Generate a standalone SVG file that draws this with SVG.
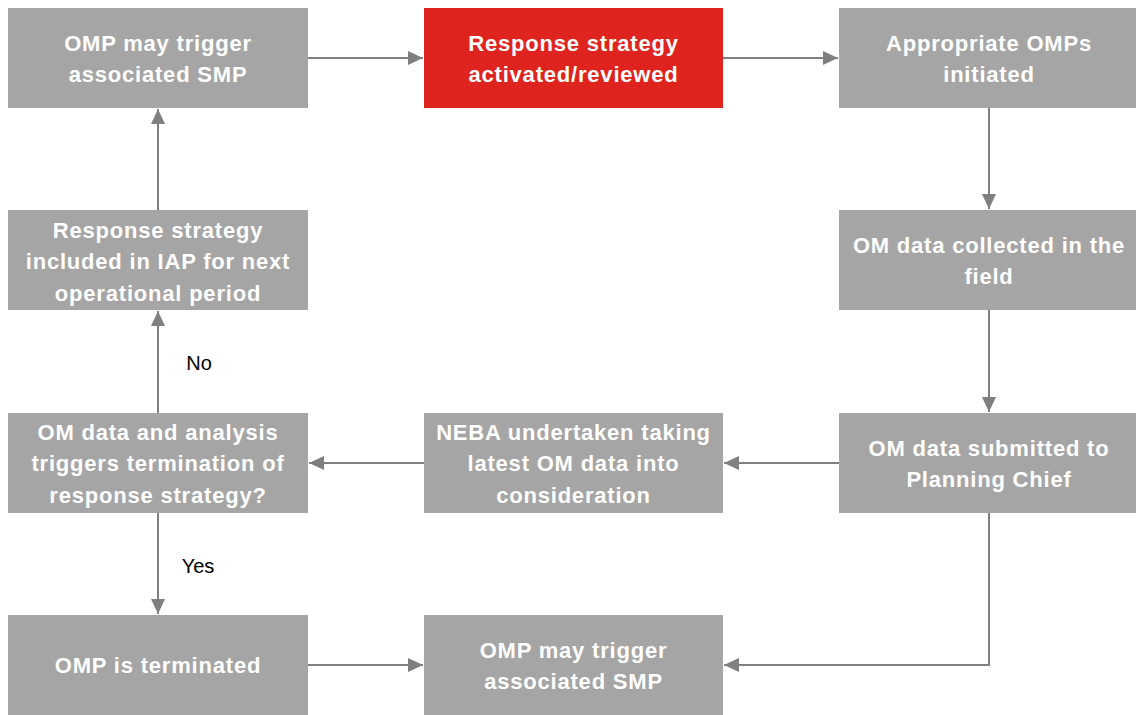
<svg xmlns="http://www.w3.org/2000/svg" width="1136" height="715" viewBox="0 0 1136 715">
<style>
.box{fill:#a5a5a5}
.red{fill:#df231e}
.t{font-family:"Liberation Sans",Arial,sans-serif;font-weight:bold;font-size:22px;letter-spacing:0.8px;fill:#ffffff;text-anchor:middle}
.lbl{font-family:"Liberation Sans",Arial,sans-serif;font-size:20px;fill:#000000;text-anchor:middle}
.c{stroke:#7f7f7f;stroke-width:2;fill:none;marker-end:url(#ah)}
</style>
<defs>
<marker id="ah" markerWidth="16" markerHeight="16" viewBox="0 0 16 16" refX="15" refY="8" orient="auto" markerUnits="userSpaceOnUse">
<path d="M0,1 L15,8 L0,15 z" fill="#7f7f7f"/>
</marker>
</defs>
<rect width="1136" height="715" fill="#ffffff"/>
<g id="connectors">
<path class="c" d="M308,58 H423"/>
<path class="c" d="M723,58 H838"/>
<path class="c" d="M989,108 V209"/>
<path class="c" d="M989,310 V412"/>
<path class="c" d="M839,463 H724"/>
<path class="c" d="M424,463 H309"/>
<path class="c" d="M158,413 V311"/>
<path class="c" d="M158,210 V109"/>
<path class="c" d="M158,513 V614"/>
<path class="c" d="M308,665 H423"/>
<path class="c" d="M989,513 V665 H724"/>
</g>
<g id="n1"><rect class="box" x="8" y="8" width="300" height="100"/>
<text class="t" x="158" y="51">OMP may trigger</text><text class="t" x="158" y="82">associated SMP</text></g>
<g id="n2"><rect class="red" x="424" y="8" width="299" height="100"/>
<text class="t" x="573.5" y="51">Response strategy</text><text class="t" x="573.5" y="82">activated/reviewed</text></g>
<g id="n3"><rect class="box" x="839" y="8" width="300" height="100"/>
<text class="t" x="989" y="51">Appropriate OMPs</text><text class="t" x="989" y="82">initiated</text></g>
<g id="n4"><rect class="box" x="839" y="210" width="300" height="100"/>
<text class="t" x="989" y="253">OM data collected in the</text><text class="t" x="989" y="284">field</text></g>
<g id="n5"><rect class="box" x="839" y="413" width="300" height="100"/>
<text class="t" x="989" y="456">OM data submitted to</text><text class="t" x="989" y="487">Planning Chief</text></g>
<g id="n6"><rect class="box" x="424" y="413" width="299" height="100"/>
<text class="t" x="573.5" y="440">NEBA undertaken taking</text><text class="t" x="573.5" y="471">latest OM data into</text><text class="t" x="573.5" y="503">consideration</text></g>
<g id="n7"><rect class="box" x="8" y="413" width="300" height="100"/>
<text class="t" x="158" y="440">OM data and analysis</text><text class="t" x="158" y="471">triggers termination of</text><text class="t" x="158" y="503">response strategy?</text></g>
<g id="n8"><rect class="box" x="8" y="210" width="300" height="100"/>
<text class="t" x="158" y="238">Response strategy</text><text class="t" x="158" y="269">included in IAP for next</text><text class="t" x="158" y="301">operational period</text></g>
<g id="n9"><rect class="box" x="8" y="615" width="300" height="100"/>
<text class="t" x="158" y="673">OMP is terminated</text></g>
<g id="n10"><rect class="box" x="424" y="615" width="299" height="100"/>
<text class="t" x="573.5" y="658">OMP may trigger</text><text class="t" x="573.5" y="689">associated SMP</text></g>
<text class="lbl" x="199" y="370">No</text>
<text class="lbl" x="198" y="573">Yes</text>
</svg>
